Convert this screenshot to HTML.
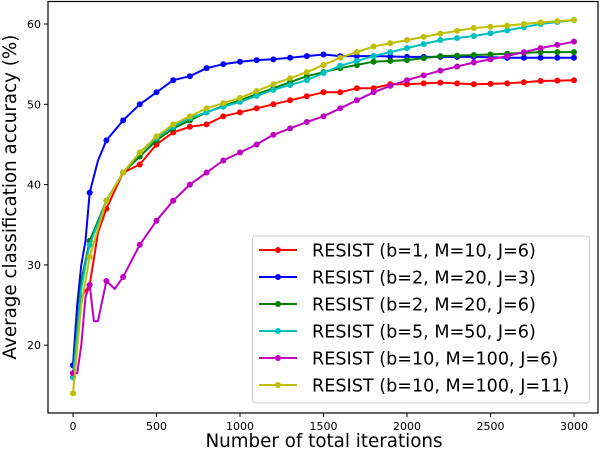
<!DOCTYPE html>
<html><head><meta charset="utf-8"><style>
body{margin:0;background:#fff}
svg{display:block;font-family:"DejaVu Sans","Liberation Sans",sans-serif}
</style></head><body>
<svg id="chart" width="602" height="452" viewBox="0 0 602 452"></svg>
<script>
const xTicks=[0,500,1000,1500,2000,2500,3000];
const yTicks=[20,30,40,50,60];
const seriesNames=["RESIST (b=1, M=10, J=6)","RESIST (b=2, M=20, J=3)","RESIST (b=2, M=20, J=6)","RESIST (b=5, M=50, J=6)","RESIST (b=10, M=100, J=6)","RESIST (b=10, M=100, J=11)"];
const seriesColors=["#ff0000","#0000ff","#008000","#00bfbf","#bf00bf","#bfbf00"];
const redX=[0,50,100,150,200,300,400,500,600,700,800,900,1000,1100,1200,1300,1400,1500,1600,1700,1800,1900,2000,2200,2400,2600,2800,3000];
const redY=[16.5,26,27.5,34,37,41.5,42.5,45,46.5,47.2,47.5,48.5,49,49.5,50,50.5,51,51.5,51.5,52,52,52.5,52.5,52.7,52.5,52.6,52.9,53];
const blueX=[0,25,50,75,100,150,200,300,400,500,600,700,800,900,1000,1100,1200,1300,1400,1500,1600,1800,2000,2200,2400,2600,2800,3000];
const blueY=[17.5,25,30,33,39,43,45.5,48,50,51.5,53,53.5,54.5,55,55.3,55.5,55.6,55.8,56,56.2,56,56,55.9,55.9,55.9,55.8,55.8,55.8];
const greenX=[0,50,75,100,200,300,400,500,600,700,800,900,1000,1200,1400,1600,1800,2000,2200,2500,2800,3000];
const greenY=[16,28,30.5,33,38,41.5,43.5,45.5,47,48,49,49.8,50.5,52,53.5,54.5,55.3,55.5,56,56.2,56.5,56.5];
const cyanX=[0,50,75,100,200,300,400,500,600,700,800,900,1000,1200,1400,1600,1800,2000,2200,2400,2600,2800,3000];
const cyanY=[16,27,30,32.5,38,41.5,44,45.8,47.2,48.3,49,49.7,50.3,51.8,53,54.8,56,57,58,58.5,59.2,60,60.5];
const magX=[0,25,50,75,100,125,150,200,250,300,400,500,600,700,800,900,1000,1100,1200,1300,1400,1500,1600,1700,1800,1900,2000,2200,2400,2600,2800,3000];
const magY=[16.5,16.5,20,26,27.5,23,23,28,27,28.5,32.5,35.5,38,40,41.5,43,44,45,46.2,47,47.8,48.5,49.5,50.5,51.5,52.3,53,54.2,55.2,56,57,57.8];
const yelX=[0,50,100,200,300,400,500,600,700,800,1000,1200,1400,1600,1800,2000,2200,2400,2600,2800,3000];
const yelY=[14,25,31,38,41.5,44,46,47.5,48.5,49.5,50.8,52.5,54,55.8,57.2,58,58.8,59.5,59.8,60.2,60.5];
const seriesX=[redX,blueX,greenX,cyanX,magX,yelX];
const seriesY=[redY,blueY,greenY,cyanY,magY,yelY];

const L=48,R=598,T=1.5,B=413;
const x0px=73,xPer=(574-73)/3000;
const sx=v=>x0px+v*xPer;
const sy=v=>24+(60-v)*8.03;
const NS="http://www.w3.org/2000/svg";
const svg=document.getElementById('chart');
function mk(tag,attrs,parent){const e=document.createElementNS(NS,tag);for(const k in attrs)e.setAttribute(k,attrs[k]);(parent||svg).appendChild(e);return e;}

const plot=mk('g',{});


for(let s=0;s<seriesX.length;s++){
  const g=mk('g',{},plot);
  
  
  const xs=seriesX[s],ys=seriesY[s];
  const pts=xs.map((v,i)=>sx(v).toFixed(1)+','+sy(ys[i]).toFixed(1)).join(' ');
  const pl=mk('polyline',{points:pts,fill:'none',stroke:seriesColors[s],'stroke-width':2,'stroke-linejoin':'round'},g);
  
  
  for(let m=0;m<=3000;m+=100){
    let j=0;while(j<xs.length-1&&xs[j+1]<m)j++;
    const k=Math.min(j+1,xs.length-1);
    const t=xs[k]===xs[j]?0:(m-xs[j])/(xs[k]-xs[j]);
    const v=ys[j]+(ys[k]-ys[j])*Math.max(0,Math.min(1,t));
    const c=mk('circle',{cx:sx(m),cy:sy(v),r:3,fill:seriesColors[s]},g);
    
    
  }
}
const frame=mk('rect',{x:L,y:T,width:R-L,height:B-T,fill:'none',stroke:'#000','stroke-width':1.2});


xTicks.forEach(v=>{
  mk('line',{x1:sx(v),x2:sx(v),y1:B,y2:B+4,stroke:'#000'});
  const t=mk('text',{x:sx(v),y:B+17,'font-size':11,'text-anchor':'middle'});
  t.textContent=v;
  
  
});
yTicks.forEach(v=>{
  mk('line',{x1:L-4,x2:L,y1:sy(v),y2:sy(v),stroke:'#000'});
  const t=mk('text',{x:L-7,y:sy(v)+4,'font-size':11,'text-anchor':'end'});
  t.textContent=v;
  
  
});
const xt=mk('text',{x:324,y:447,'font-size':18.3,'text-anchor':'middle'});
xt.textContent='Number of total iterations';


const yt=mk('text',{x:0,y:0,'font-size':18.3,'text-anchor':'middle',transform:'translate(16,197) rotate(-90)'});
yt.textContent='Average classification accuracy (%)';



const lg=mk('g',{});


mk('rect',{x:252.5,y:236,width:337,height:167,rx:3,fill:'#fff','fill-opacity':0.85,stroke:'#ccc'},lg);
seriesNames.forEach((n,i)=>{
  const y=250+i*27;
  const e=mk('g',{},lg);
  
  
  mk('line',{x1:259,x2:297,y1:y,y2:y,stroke:seriesColors[i],'stroke-width':2},e);
  mk('circle',{cx:278,cy:y,r:3,fill:seriesColors[i]},e);
  const t=mk('text',{x:312,y:y+6.5,'font-size':17.6},e);
  t.textContent=n;
});
</script>
</body></html>
